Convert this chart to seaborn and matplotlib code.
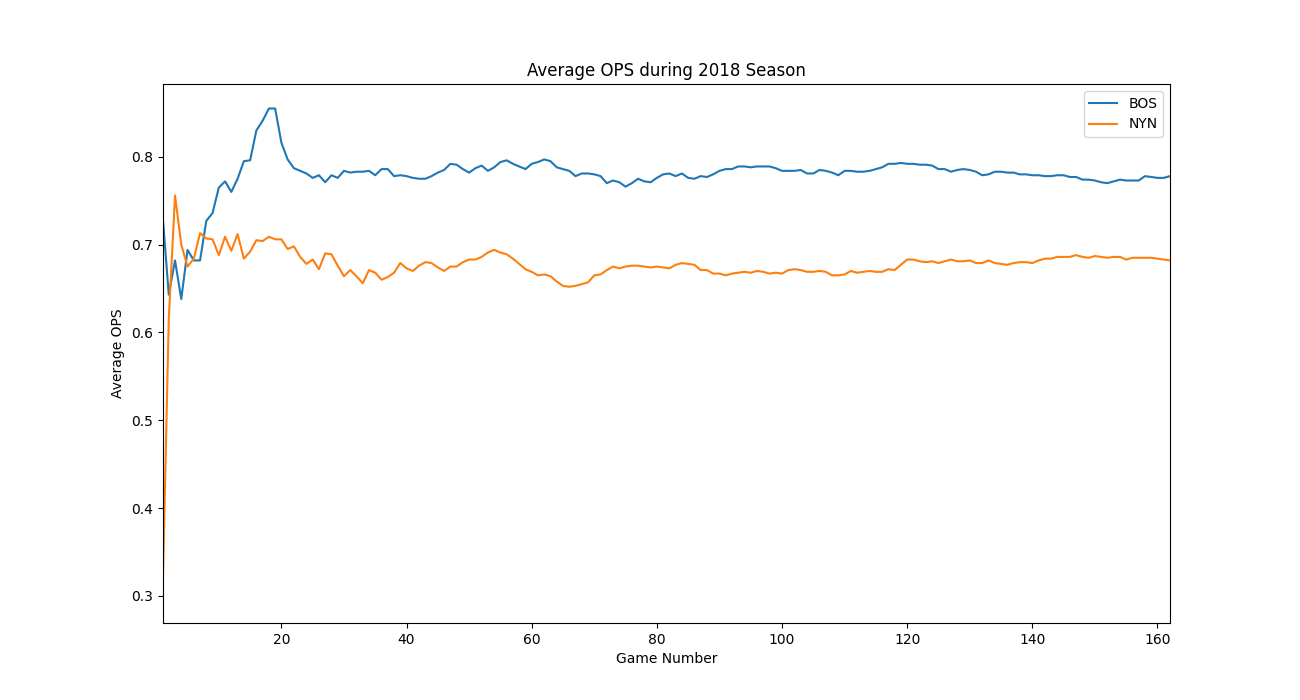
import matplotlib
matplotlib.use("Agg")
import matplotlib.pyplot as plt
import seaborn as sns
import numpy as np
import pandas as pd

# Valeurs (OPS moyen cumulé, matchs 1 à 162)
BOS_OPS = [
    0.735, 0.643, 0.682, 0.638, 0.694, 0.682, 0.682, 0.727, 0.736, 0.765,
    0.772, 0.760, 0.775, 0.795, 0.796, 0.830, 0.841, 0.855, 0.855, 0.816,
    0.797, 0.787, 0.784, 0.781, 0.776, 0.779, 0.771, 0.779, 0.776, 0.784,
    0.782, 0.783, 0.783, 0.784, 0.779, 0.786, 0.786, 0.778, 0.779, 0.778,
    0.776, 0.775, 0.775, 0.778, 0.782, 0.785, 0.792, 0.791, 0.786, 0.782,
    0.787, 0.790, 0.784, 0.788, 0.794, 0.796, 0.792, 0.789, 0.786, 0.792,
    0.794, 0.797, 0.795, 0.788, 0.786, 0.784, 0.778, 0.781, 0.781, 0.780,
    0.778, 0.770, 0.773, 0.771, 0.766, 0.770, 0.775, 0.772, 0.771, 0.776,
    0.780, 0.781, 0.778, 0.781, 0.776, 0.775, 0.778, 0.777, 0.780, 0.784,
    0.786, 0.786, 0.789, 0.789, 0.788, 0.789, 0.789, 0.789, 0.787, 0.784,
    0.784, 0.784, 0.785, 0.781, 0.781, 0.785, 0.784, 0.782, 0.779, 0.784,
    0.784, 0.783, 0.783, 0.784, 0.786, 0.788, 0.792, 0.792, 0.793, 0.792,
    0.792, 0.791, 0.791, 0.790, 0.786, 0.786, 0.783, 0.785, 0.786, 0.785,
    0.783, 0.779, 0.780, 0.783, 0.783, 0.782, 0.782, 0.780, 0.780, 0.779,
    0.779, 0.778, 0.778, 0.779, 0.779, 0.777, 0.777, 0.774, 0.774, 0.773,
    0.771, 0.770, 0.772, 0.774, 0.773, 0.773, 0.773, 0.778, 0.777, 0.776,
    0.776, 0.778,
]

NYN_OPS = [
    0.297, 0.615, 0.756, 0.700, 0.675, 0.684, 0.713, 0.707, 0.706, 0.688,
    0.709, 0.693, 0.712, 0.684, 0.692, 0.705, 0.704, 0.709, 0.706, 0.706,
    0.695, 0.698, 0.686, 0.678, 0.683, 0.672, 0.690, 0.689, 0.676, 0.664,
    0.671, 0.664, 0.656, 0.671, 0.668, 0.660, 0.663, 0.668, 0.679, 0.673,
    0.670, 0.676, 0.680, 0.679, 0.674, 0.670, 0.675, 0.675, 0.680, 0.683,
    0.683, 0.686, 0.691, 0.694, 0.691, 0.689, 0.684, 0.678, 0.672, 0.669,
    0.665, 0.666, 0.664, 0.658, 0.653, 0.652, 0.653, 0.655, 0.657, 0.665,
    0.666, 0.671, 0.675, 0.673, 0.675, 0.676, 0.676, 0.675, 0.674, 0.675,
    0.674, 0.673, 0.677, 0.679, 0.678, 0.677, 0.671, 0.671, 0.667, 0.667,
    0.665, 0.667, 0.668, 0.669, 0.668, 0.670, 0.669, 0.667, 0.668, 0.667,
    0.671, 0.672, 0.671, 0.669, 0.669, 0.670, 0.669, 0.665, 0.665, 0.666,
    0.670, 0.668, 0.669, 0.670, 0.669, 0.669, 0.672, 0.671, 0.677, 0.683,
    0.683, 0.681, 0.680, 0.681, 0.679, 0.681, 0.683, 0.681, 0.681, 0.682,
    0.679, 0.679, 0.682, 0.679, 0.678, 0.677, 0.679, 0.680, 0.680, 0.679,
    0.682, 0.684, 0.684, 0.686, 0.686, 0.686, 0.688, 0.686, 0.685, 0.687,
    0.686, 0.685, 0.686, 0.686, 0.683, 0.685, 0.685, 0.685, 0.685, 0.684,
    0.683, 0.682,
]

GAMES = list(range(1, len(BOS_OPS) + 1))
TEAMS = ["BOS", "NYN"]

df = pd.concat([
    pd.DataFrame({"game": GAMES, "ops": BOS_OPS, "team": "BOS"}),
    pd.DataFrame({"game": GAMES, "ops": NYN_OPS, "team": "NYN"}),
], ignore_index=True)

fig, ax = plt.subplots(figsize=(13, 7), dpi=100)
sns.lineplot(data=df, x="game", y="ops", hue="team", hue_order=TEAMS,
             palette=["#1f77b4", "#ff7f0e"], linewidth=1.5, ax=ax)

ax.set_xlim(1, 162)
ax.set_title("Average OPS during 2018 Season")
ax.set_xlabel("Game Number")
ax.set_ylabel("Average OPS")
handles, labels = ax.get_legend_handles_labels()
ax.legend(handles, labels, loc="upper right")

fig.savefig("out.png", dpi=100, facecolor="white")
